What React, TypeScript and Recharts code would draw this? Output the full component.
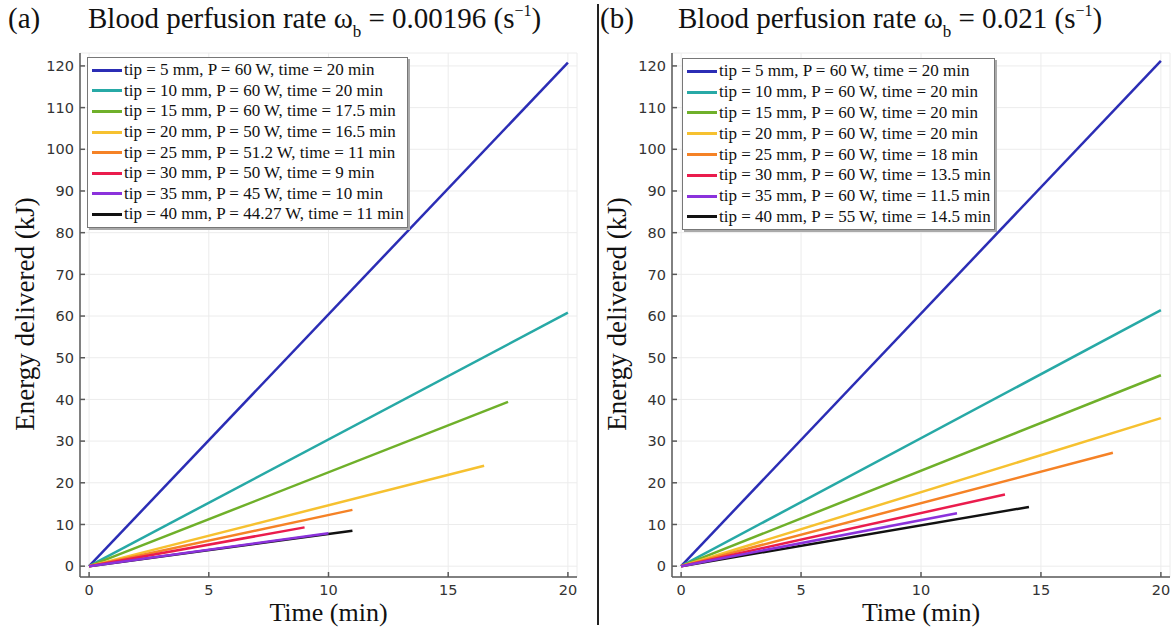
import React from "react";
import { CartesianGrid, Legend, Line, LineChart, XAxis, YAxis } from "recharts";

// tip lengths (mm), shared by both panels
const tips = [5, 10, 15, 20, 25, 30, 35, 40];
const colors = ["#2b2db5", "#27a9a6", "#6fb02a", "#f6c130", "#f58226", "#ea1c4d", "#8b32dc", "#111111"];
// black curve sits underneath the others
const drawOrder = [7, 0, 1, 2, 3, 4, 5, 6];

// panel (a): omega_b = 0.00196
const powerA = ["60", "60", "60", "50", "51.2", "50", "45", "44.27"];
const timeA = [20, 20, 17.5, 16.5, 11, 9, 10, 11];
const energyA = [120.8, 60.8, 39.4, 24.1, 13.5, 9.3, 7.9, 8.5];

// panel (b): omega_b = 0.021
const powerB = ["60", "60", "60", "60", "60", "60", "60", "55"];
const timeB = [20, 20, 20, 20, 18, 13.5, 11.5, 14.5];
const energyB = [121.2, 61.4, 45.8, 35.5, 27.2, 17.2, 12.7, 14.2];

const xTicks = [0, 5, 10, 15, 20];
const yTicks = [0, 10, 20, 30, 40, 50, 60, 70, 80, 90, 100, 110, 120];

const SERIF = '"Liberation Serif", "Times New Roman", serif';
const SANS = '"DejaVu Sans", sans-serif';
const FRAME = "#5a5a5a";

interface PanelProps {
    left: number;
    width: number;
    plotLeft: number;
    plotRight: number;
    letter: string;
    rate: string;
    power: string[];
    time: number[];
    energy: number[];
    legend: { left: number; top: number; width: number; height: number; row: number };
}

function LegendBox({ payload, row, names }: { payload?: any[]; row: number; names: string[] }) {
    const items = [...(payload ?? [])].sort((a, b) => names.indexOf(a.value) - names.indexOf(b.value));
    return (
        <div
            style={{
                border: "1px solid #777",
                boxShadow: "2px 2px 0 #aaa",
                background: "#fff",
                padding: "2px 0 0 4px",
                boxSizing: "border-box",
                height: "100%",
            }}
        >
            {items.map((entry, i) => (
                <div key={i} style={{ display: "flex", alignItems: "center", height: row }}>
                    <span style={{ display: "inline-block", width: 30, height: 3, background: entry.color, marginRight: 2 }} />
                    <span style={{ fontFamily: SERIF, fontSize: 17, color: "#111", whiteSpace: "nowrap" }}>{entry.value}</span>
                </div>
            ))}
        </div>
    );
}

function Panel({ left, width, plotLeft, plotRight, letter, rate, power, time, energy, legend }: PanelProps) {
    const plotTop = 53;
    const plotBottom = 577;
    const xAxisH = 30;
    const yAxisW = 40;
    const tickStyle = { fill: "#333", fontSize: 14.5, fontFamily: SANS };
    const centerX = plotLeft + 9 + ((plotRight - plotLeft - 18) * 10) / 20;
    const names = tips.map((tip, i) => `tip = ${tip} mm, P = ${power[i]} W, time = ${time[i]} min`);

    return (
        <div style={{ position: "absolute", left, top: 0, width, height: 628 }}>
            <div style={{ position: "absolute", left: left === 0 ? 8 : 10, top: 2, fontFamily: SERIF, fontSize: 29, color: "#111" }}>
                {letter}
            </div>
            <div
                style={{
                    position: "absolute",
                    left: 88,
                    top: 2,
                    fontFamily: SERIF,
                    fontSize: 29,
                    color: "#111",
                    whiteSpace: "nowrap",
                }}
            >
                Blood perfusion rate ω<span style={{ fontSize: 17, verticalAlign: -9 }}>b</span> = {rate} (s
                <span style={{ fontSize: 16, verticalAlign: 12 }}>−1</span>)
            </div>
            <div
                style={{
                    position: "absolute",
                    left: left === 0 ? 25 : 27,
                    top: 314,
                    transform: "translate(-50%, -50%) rotate(-90deg)",
                    fontFamily: SERIF,
                    fontSize: 27,
                    color: "#111",
                    whiteSpace: "nowrap",
                }}
            >
                Energy delivered (kJ)
            </div>
            <div
                style={{
                    position: "absolute",
                    left: centerX,
                    top: 613,
                    transform: "translate(-50%, -50%)",
                    fontFamily: SERIF,
                    fontSize: 26,
                    lineHeight: "22px",
                    color: "#111",
                    whiteSpace: "nowrap",
                }}
            >
                Time (min)
            </div>
            <LineChart
                width={width}
                height={628}
                margin={{ top: plotTop, right: width - plotRight, bottom: 628 - plotBottom - xAxisH, left: plotLeft - yAxisW }}
                style={{ position: "absolute", left: 0, top: 0 }}
            >
                <CartesianGrid stroke="#ececec" strokeWidth={1} />
                <XAxis
                    type="number"
                    dataKey="t"
                    domain={[-0.38, 20.38]}
                    ticks={xTicks}
                    allowDataOverflow
                    height={xAxisH}
                    tickSize={-5}
                    tickMargin={13}
                    tick={tickStyle}
                    axisLine={{ stroke: FRAME, strokeWidth: 1.5 }}
                    tickLine={{ stroke: FRAME, strokeWidth: 1.5 }}
                />
                <XAxis
                    xAxisId="top"
                    orientation="top"
                    type="number"
                    domain={[-0.38, 20.38]}
                    ticks={xTicks}
                    allowDataOverflow
                    height={0}
                    tickSize={-5}
                    tick={false}
                    axisLine={{ stroke: FRAME, strokeWidth: 1.5 }}
                    tickLine={{ stroke: FRAME, strokeWidth: 1.5 }}
                />
                <YAxis
                    type="number"
                    domain={[-2.6, 123.1]}
                    ticks={yTicks}
                    allowDataOverflow
                    width={yAxisW}
                    tickSize={-5}
                    tickMargin={11}
                    tick={tickStyle}
                    axisLine={{ stroke: FRAME, strokeWidth: 1.5 }}
                    tickLine={{ stroke: FRAME, strokeWidth: 1.5 }}
                />
                <YAxis
                    yAxisId="right"
                    orientation="right"
                    type="number"
                    domain={[-2.6, 123.1]}
                    ticks={yTicks}
                    allowDataOverflow
                    width={0}
                    tickSize={-5}
                    tick={false}
                    axisLine={{ stroke: FRAME, strokeWidth: 1.5 }}
                    tickLine={{ stroke: FRAME, strokeWidth: 1.5 }}
                />
                <Legend
                    layout="vertical"
                    align="center"
                    verticalAlign="middle"
                    itemSorter={null as any}
                    wrapperStyle={{ left: legend.left, top: legend.top, width: legend.width, height: legend.height }}
                    content={(props: any) => <LegendBox payload={props.payload} row={legend.row} names={names} />}
                />
                {drawOrder.map((i) => (
                    <Line
                        key={tips[i]}
                        name={names[i]}
                        data={[
                            { t: 0, e: 0 },
                            { t: time[i], e: energy[i] },
                        ]}
                        dataKey="e"
                        stroke={colors[i]}
                        strokeWidth={2.5}
                        dot={false}
                        activeDot={false}
                        isAnimationActive={false}
                    />
                ))}
            </LineChart>
        </div>
    );
}

export default function App() {
    return (
        <div style={{ position: "absolute", left: 0, top: 0, width: 1175, height: 628, background: "#fff", overflow: "hidden" }}>
            <Panel
                left={0}
                width={590}
                plotLeft={80}
                plotRight={577}
                letter="(a)"
                rate="0.00196"
                power={powerA}
                time={timeA}
                energy={energyA}
                legend={{ left: 87, top: 57, width: 321, height: 171, row: 20.6 }}
            />
            <div style={{ position: "absolute", left: 597, top: 4, width: 2, height: 621, background: "#222" }} />
            <Panel
                left={590}
                width={585}
                plotLeft={82}
                plotRight={580}
                letter="(b)"
                rate="0.021"
                power={powerB}
                time={timeB}
                energy={energyB}
                legend={{ left: 92, top: 58, width: 313, height: 172, row: 20.8 }}
            />
        </div>
    );
}
